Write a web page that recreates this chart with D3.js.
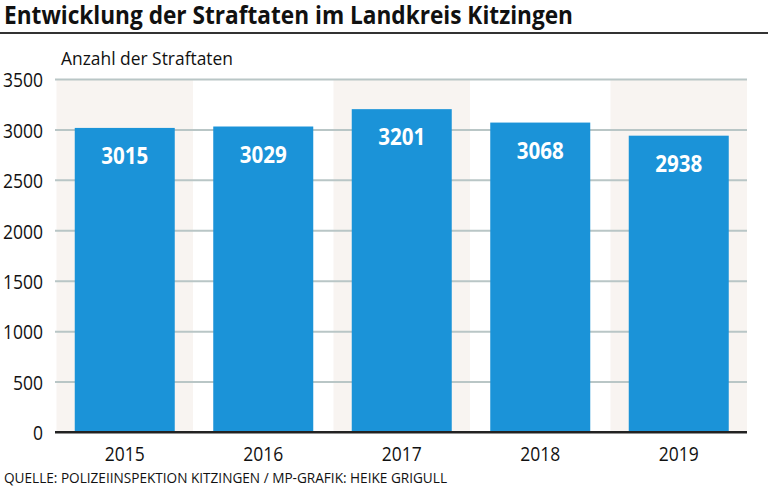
<!DOCTYPE html>
<html><head><meta charset="utf-8">
<script src="https://cdn.jsdelivr.net/npm/d3@7"></script>
<style>body{margin:0;background:#fff}svg{display:block}</style>
</head><body>
<script>
const years = ["2015","2016","2017","2018","2019"];
const values = [3015, 3029, 3201, 3068, 2938];
const shaded = ["2015","2017","2019"];
const yTicks = [0,500,1000,1500,2000,2500,3000,3500];
const titleText = "Entwicklung der Straftaten im Landkreis Kitzingen";
const axisTitle = "Anzahl der Straftaten";
const sourceText = "QUELLE: POLIZEIINSPEKTION KITZINGEN / MP-GRAFIK: HEIKE GRIGULL";

const W = 768, H = 486;
const font = "'Open Sans','Noto Sans',sans-serif";
const svg = d3.select("body").append("svg").attr("width", W).attr("height", H);

const x = d3.scaleBand().domain(years).range([55.5, 748]).paddingInner(0.278).paddingOuter(0.139);
const xb = d3.scaleBand().domain(years).range([55.5, 748]);
const y = d3.scaleLinear().domain([0, 3500]).range([432, 79]);

// title
svg.append("text").attr("x", 4).attr("y", 23.5).attr("font-family", font).attr("font-weight", "bold")
  .attr("font-size", 24.5).attr("fill", "#111").attr("textLength", 569).attr("lengthAdjust", "spacingAndGlyphs")
  .text(titleText);
svg.append("line").attr("x1", 0).attr("x2", W).attr("y1", 33).attr("y2", 33).attr("stroke", "#333").attr("stroke-width", 2);

svg.append("text").attr("x", 61).attr("y", 65).attr("font-family", font).attr("font-size", 18.5).attr("fill", "#111")
  .attr("textLength", 172).attr("lengthAdjust", "spacingAndGlyphs").text(axisTitle);

// shaded bands
svg.selectAll("rect.band").data(shaded).join("rect").attr("class", "band")
  .attr("x", d => xb(d) + 1).attr("width", xb.bandwidth() - 2)
  .attr("y", y(3500)).attr("height", y(0) - y(3500)).attr("fill", "#f8f4f1");

// gridlines + y labels
const yAxis = d3.axisLeft(y).tickValues(yTicks).tickSize(0).tickFormat(d3.format("d"));
const gy = svg.append("g").attr("transform", "translate(55,0)").call(yAxis);
gy.select(".domain").remove();
gy.selectAll(".tick line").attr("x2", 692).attr("stroke", d => d === 0 ? "#222" : "#b9c6c6").attr("stroke-width", 2);
gy.selectAll(".tick text").attr("x", -12).attr("dy", "0.38em").attr("font-family", font).attr("font-size", 20.5).attr("fill", "#111")
  .attr("text-anchor", "end")
  .attr("textLength", d => String(d).length * 10).attr("lengthAdjust", "spacingAndGlyphs");

// bars
svg.selectAll("rect.bar").data(values).join("rect").attr("class", "bar")
  .attr("x", (d, i) => x(years[i])).attr("width", x.bandwidth())
  .attr("y", d => y(d)).attr("height", d => y(0) - y(d)).attr("fill", "#1b93d8");

svg.append("line").attr("x1", 55).attr("x2", 747).attr("y1", y(0)).attr("y2", y(0)).attr("stroke", "#222").attr("stroke-width", 2);

svg.selectAll("text.val").data(values).join("text").attr("class", "val")
  .attr("x", (d, i) => x(years[i]) + x.bandwidth() / 2 - 23.5).attr("y", d => y(d) + 36)
  .attr("font-family", font).attr("font-weight", "bold").attr("font-size", 24)
  .attr("textLength", 47).attr("lengthAdjust", "spacingAndGlyphs")
  .attr("fill", "#fff").text(d => d);

// x axis labels
const xAxis = d3.axisBottom(x).tickSize(0);
const gx = svg.append("g").attr("transform", `translate(0,${y(0)})`).call(xAxis);
gx.select(".domain").remove();
gx.selectAll(".tick text").attr("y", 15).attr("dy", "0.71em").attr("font-family", font).attr("font-size", 20).attr("fill", "#111")
  .attr("text-anchor", "start").attr("x", -20).attr("textLength", 40).attr("lengthAdjust", "spacingAndGlyphs");

svg.append("text").attr("x", 4).attr("y", 483).attr("font-family", font).attr("font-size", 15).attr("fill", "#111")
  .attr("textLength", 443).attr("lengthAdjust", "spacingAndGlyphs").text(sourceText);
</script>
</body></html>
